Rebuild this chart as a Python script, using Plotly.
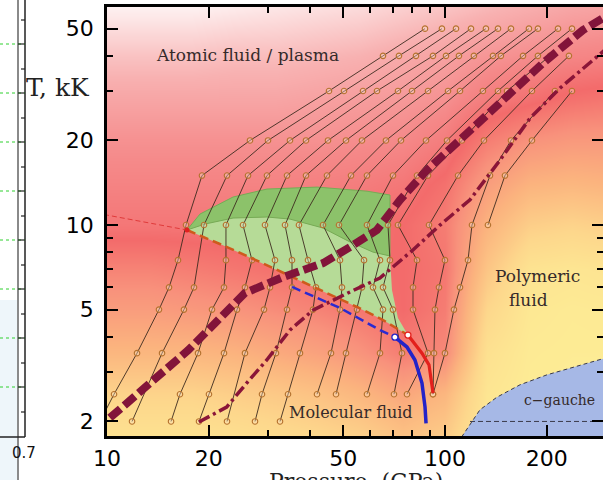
import numpy as np
import plotly.graph_objects as go

W, H = 603, 480
ML, MR, MT, MB = 107, 0, 7, 44
P_RANGE = [10.0, 293.5]
T_RANGE = [1.775, 59.7]

# ---------------- background shading (level) ----------------
bg_P = [10, 13.3, 17.8, 23.7, 31.6, 42.2, 56.2, 75, 100, 133, 178, 237, 316]
bg_T = [1.7, 2.5, 3.5, 5, 7, 10, 14, 20, 28, 40, 62]
bg_level = [
    [0.10, 0.10, 0.10, 0.12, 0.15, 0.18, 0.22, 0.30, 0.25, 0.05, 0.02, 0.02, 0.02],
    [0.22, 0.22, 0.22, 0.25, 0.28, 0.32, 0.38, 0.46, 0.38, 0.08, 0.03, 0.02, 0.02],
    [0.38, 0.38, 0.38, 0.40, 0.44, 0.48, 0.54, 0.62, 0.58, 0.12, 0.04, 0.03, 0.03],
    [0.50, 0.50, 0.52, 0.54, 0.57, 0.60, 0.64, 0.68, 0.62, 0.20, 0.06, 0.04, 0.05],
    [0.60, 0.60, 0.62, 0.64, 0.66, 0.67, 0.68, 0.68, 0.64, 0.30, 0.10, 0.08, 0.10],
    [0.72, 0.72, 0.72, 0.72, 0.71, 0.70, 0.69, 0.68, 0.62, 0.40, 0.25, 0.22, 0.25],
    [0.76, 0.76, 0.76, 0.76, 0.76, 0.75, 0.74, 0.72, 0.66, 0.50, 0.40, 0.38, 0.40],
    [0.80, 0.80, 0.80, 0.80, 0.80, 0.80, 0.79, 0.78, 0.74, 0.62, 0.55, 0.52, 0.52],
    [0.85, 0.85, 0.85, 0.85, 0.85, 0.84, 0.83, 0.82, 0.80, 0.74, 0.70, 0.66, 0.64],
    [0.91, 0.91, 0.91, 0.90, 0.90, 0.89, 0.88, 0.86, 0.84, 0.81, 0.79, 0.77, 0.76],
    [1.00, 1.00, 1.00, 0.99, 0.98, 0.97, 0.96, 0.94, 0.92, 0.90, 0.88, 0.86, 0.85],
]
bg_colors = [[0, '#fdef96'], [0.2, '#fdd78c'], [0.4, '#fbb37e'], [0.55, '#f8927c'],
             [0.68, '#f36b6b'], [0.78, '#f58989'], [0.88, '#f8b1b1'], [1, '#fef6f6']]

# ---------------- isochores (P in GPa, T in kK) ----------------
iso01_T = [2, 2.5, 3.5, 5, 6, 7.5, 10, 15, 20, 30, 40, 50]
iso01_P = [9.53, 10.49, 12.27, 14.25, 15.26, 16.22, 17.13, 19.1, 26.49, 45.38, 65.56, 87.28]
iso02_T = [2, 3.5, 5, 6, 10, 15, 20, 30, 40, 50]
iso02_P = [11.86, 14.55, 16.89, 18.09, 19.36, 22.65, 29.95, 50.26, 73.1, 97.97]
iso03_T = [2, 2.5, 3.5, 5, 6, 7.5, 10, 15, 20, 30, 40, 50]
iso03_P = [15.47, 16.44, 18.59, 20.45, 22.19, 22.49, 22.49, 26.14, 34.79, 57.21, 82.09, 107.8]
iso04_T = [2, 2.5, 3.5, 5, 6, 7.5, 10, 15, 20, 30, 40, 50]
iso04_P = [18.72, 20.03, 22.19, 24.25, 25.6, 26.85, 25.26, 29.74, 38.8, 62.93, 92.15, 119.4]
iso05_T = [2, 3.5, 5, 6, 7.5, 10, 15, 20, 30, 40, 50]
iso05_P = [22.65, 25.6, 29.14, 30.36, 31.41, 29.34, 34.09, 45.07, 72.6, 100.7, 132.2]
iso06_T = [2, 2.5, 3.5, 5, 6, 7.5, 10, 15, 20, 30, 40, 50]
iso06_P = [27.41, 28.75, 31.62, 34.09, 35.27, 35.27, 33.63, 38.8, 50.95, 79.88, 110.0, 143.5]
iso07_T = [2, 2.5, 3.5, 5, 6, 7.5, 10, 15, 20, 30, 40, 50]
iso07_P = [32.5, 34.32, 37.24, 40.69, 41.53, 39.33, 36.98, 44.76, 56.82, 89.09, 121.8, 156.8]
iso08_T = [2.5, 3.5, 5, 6, 7.5, 10, 15, 20, 30, 40, 50]
iso08_P = [41.82, 46.0, 48.91, 49.58, 48.91, 43.56, 52.72, 66.9, 102.1, 138.7, 177.2]
iso09_T = [2.5, 3.5, 5, 6, 7.5, 10, 15, 20, 30, 40, 50]
iso09_P = [47.6, 50.95, 54.91, 56.82, 57.61, 48.58, 58.78, 74.1, 110.8, 146.4, 188.4]
iso10_T = [2.5, 3.5, 5, 6, 7.5, 10, 15, 20, 30, 40, 50]
iso10_P = [58.78, 64.23, 65.56, 61.24, 64.23, 58.78, 70.17, 87.88, 129.5, 170.2, 216.0]
iso11_T = [2.5, 3.5, 5, 6, 7.5, 10, 15, 20, 30, 40, 50]
iso11_P = [70.65, 74.61, 70.17, 65.56, 68.75, 67.82, 82.65, 101.4, 143.5, 188.4, 237.6]
iso12_T = [2.5, 3.5, 5, 6, 7.5, 10, 15, 20, 30, 40]
iso12_P = [77.2, 89.09, 80.43, 80.43, 82.65, 72.6, 89.09, 112.3, 152.6, 204.5]
iso13_T = [2.5, 3.5, 5, 6, 7.5, 10, 15, 20, 30, 40]
iso13_P = [92.15, 92.8, 93.42, 96.0, 100.0, 89.7, 109.3, 130.4, 180.9, 232.7]
iso14_T = [2.5, 3.5, 5, 6, 7.5, 10, 15, 20, 30]
iso14_P = [92.15, 100.0, 106.3, 110.8, 117.0, 120.2, 135.9, 156.8, 211.5]
iso15_T = [10, 15, 20, 30]
iso15_P = [134.0, 150.5, 180.9, 237.6]

ISOCHORES = [(iso01_P, iso01_T), (iso02_P, iso02_T), (iso03_P, iso03_T), (iso04_P, iso04_T),
             (iso05_P, iso05_T), (iso06_P, iso06_T), (iso07_P, iso07_T), (iso08_P, iso08_T),
             (iso09_P, iso09_T), (iso10_P, iso10_T), (iso11_P, iso11_T), (iso12_P, iso12_T),
             (iso13_P, iso13_T), (iso14_P, iso14_T), (iso15_P, iso15_T)]

# ---------------- boundary curves ----------------
thick_P = [10.2, 17.4, 20.9, 25.6, 33.2, 43.6, 52.4, 62.9, 73.6, 88.5, 110.8, 155.7, 195, 256, 307.6]
thick_T = [2.06, 3.59, 4.48, 5.73, 6.53, 7.32, 8.35, 9.6, 12.27, 15.7, 20.1, 29.7, 37.7, 49.4, 56.4]

dd_P = [18.7, 22.6, 25.9, 29.7, 34.8, 40.7, 52.4, 64.2, 80.4, 96.7, 118.6, 145.4, 178.5, 218.9, 297.5]
dd_T = [1.99, 2.25, 2.74, 3.31, 4.23, 4.98, 5.78, 6.48, 8.15, 10.0, 12.3, 17.0, 24.0, 30.7, 42.0]

redthin_P = [9.8, 17.25]
redthin_T = [10.9, 9.6]

orange_P = [17.25, 22.65, 28.4, 34.8, 42.7, 54.9, 65.6, 77.7]
orange_T = [9.6, 8.35, 7.38, 6.59, 5.87, 5.11, 4.59, 4.06]

redsolid_P = [77.7, 85.5, 89.7, 92.2]
redsolid_T = [4.06, 3.5, 3.18, 2.52]

bluedash_P = [35.3, 48.9, 64.2, 71.1]
bluedash_T = [6.02, 5.07, 4.23, 3.99]
bluesolid_P = [71.1, 77.2, 81.5, 85.5, 87.3, 87.9]
bluesolid_T = [3.99, 3.68, 3.31, 2.74, 2.25, 1.97]

# green two-phase region
gdark_P = [17.25, 18.84, 23.6, 29.74, 41.82, 58.78, 68.75, 68.75, 61.24, 52.4, 43.56, 34.79, 29.74, 23.6, 19.5, 17.25]
gdark_T = [9.6, 10.94, 12.58, 13.43, 13.65, 13.2, 12.79, 7.76, 8.01, 8.7, 9.76, 10.5, 10.68, 10.59, 10.08, 9.6]
glight_P = [17.25, 19.5, 23.6, 29.74, 34.79, 43.56, 52.4, 61.24, 68.75, 69.7, 72.6, 77.7,
            65.6, 54.9, 42.7, 34.8, 28.4, 22.65, 17.25]
glight_T = [9.6, 10.08, 10.59, 10.68, 10.5, 9.76, 8.7, 8.01, 7.76, 5.87, 4.67, 4.06,
            4.59, 5.11, 5.87, 6.59, 7.38, 8.35, 9.6]

# c-gauche region
cg_P = [112.0, 126.9, 142.5, 166.7, 200.3, 239.2, 297.5]
cg_T = [1.76, 2.20, 2.44, 2.70, 2.93, 3.12, 3.36]
cgline_P = [118.6, 300.0]
cgline_T = [2.0, 2.0]

x_ticks = [10, 20, 50, 100, 200]
x_minor = [30, 40, 60, 70, 80, 90, 300]
y_ticks = [2, 5, 10, 20, 50]
y_minor = [3, 4, 6, 7, 8, 9, 30, 40]

lg = np.log10
fig = go.Figure()

fig.add_trace(go.Heatmap(x=lg(bg_P), y=lg(bg_T), z=bg_level, colorscale=bg_colors,
                         zmin=0, zmax=1, zsmooth='best', showscale=False, hoverinfo='skip',
                         xaxis='x', yaxis='y'))

def sc(x, y, **kw):
    fig.add_trace(go.Scatter(x=x, y=y, xaxis='x2', yaxis='y2', showlegend=False,
                             hoverinfo='skip', **kw))

# c-gauche
sc(cg_P + [cg_P[-1], cg_P[0]], cg_T + [1.6, 1.6], mode='lines', fill='toself',
   fillcolor='#a6b8e6', line=dict(width=0))
sc(cg_P, cg_T, mode='lines', line=dict(color='#3a3a4a', width=1, dash='4px,3px'))
sc(cgline_P, cgline_T, mode='lines', line=dict(color='#3a3a4a', width=1, dash='5px,3px'))

# green region
sc(glight_P, glight_T, mode='lines', fill='toself', fillcolor='#b6db97', line=dict(width=0))
sc(gdark_P, gdark_T, mode='lines', fill='toself', fillcolor='#8cc26a',
   line=dict(color='#74ad55', width=1))

# isochores
for P, T in ISOCHORES:
    sc(P, T, mode='lines+markers', line=dict(color='#3d2b1f', width=0.9),
       marker=dict(symbol='circle', size=5.5, color='rgba(255,235,210,0.35)',
                   line=dict(color='#b5722e', width=1.1)))

# boundary lines
sc(redthin_P, redthin_T, mode='lines', line=dict(color='#e03a3a', width=1, dash='5px,3px'))
sc(orange_P, orange_T, mode='lines', line=dict(color='#cf5a1c', width=2.5, dash='9px,5px'))
sc(redsolid_P, redsolid_T, mode='lines', line=dict(color='#e3201c', width=3.2))
sc(bluedash_P, bluedash_T, mode='lines', line=dict(color='#2a2ad0', width=2.5, dash='9px,5px'))
sc(bluesolid_P, bluesolid_T, mode='lines', line=dict(color='#2323c8', width=3.5))
sc(dd_P, dd_T, mode='lines', line=dict(color='#8a1538', width=3.5, dash='12px,4px,3px,4px'))
sc(thick_P, thick_T, mode='lines', line=dict(color='#82143a', width=8, dash='14px,5px'))
sc([redsolid_P[0], bluesolid_P[0]], [redsolid_T[0], bluesolid_T[0]], mode='markers',
   marker=dict(size=6, color='white', line=dict(color=['#e3201c', '#2323c8'], width=1.3)))
sc([orange_P[0]], [orange_T[0]], mode='markers', marker=dict(size=5, color='#e02020'))

# invisible trace for right-hand tick axis
fig.add_trace(go.Scatter(x=[20], y=[5], xaxis='x2', yaxis='y3', mode='markers',
                         marker=dict(opacity=0), showlegend=False, hoverinfo='skip'))

tickfont = dict(family='DejaVu Sans', size=22, color='black')
common_log = dict(type='log', showgrid=False, zeroline=False, ticks='inside', ticklen=11,
                  tickwidth=2, tickcolor='black', tickfont=tickfont)
xr = [float(lg(P_RANGE[0])), float(lg(P_RANGE[1]))]
yr = [float(lg(T_RANGE[0])), float(lg(T_RANGE[1]))]

fig.update_layout(
    width=W, height=H, margin=dict(l=ML, r=MR, t=MT, b=MB, autoexpand=False),
    paper_bgcolor='white', plot_bgcolor='white', hovermode=False, showlegend=False,
    xaxis=dict(range=xr, visible=False, fixedrange=True),
    yaxis=dict(range=yr, visible=False, fixedrange=True),
    xaxis2=dict(overlaying='x', anchor='y2', side='bottom', range=xr,
                tickmode='array', tickvals=x_ticks, ticktext=[str(v) for v in x_ticks],
                showline=True, linewidth=2.5, linecolor='black', mirror='ticks',
                minor=dict(tickmode='array', tickvals=x_minor, ticks='inside', ticklen=6,
                           tickwidth=2, tickcolor='black'),
                ticklabelstandoff=1, **common_log),
    yaxis2=dict(overlaying='y', anchor='x2', side='left', range=yr,
                tickmode='array', tickvals=y_ticks, ticktext=[str(v) for v in y_ticks],
                showline=True, linewidth=2.5, linecolor='black', mirror=False,
                minor=dict(tickmode='array', tickvals=y_minor, ticks='inside', ticklen=6,
                           tickwidth=2, tickcolor='black'),
                ticklabelstandoff=6, **common_log),
    yaxis3=dict(overlaying='y', anchor='x2', side='right', range=yr,
                tickmode='array', tickvals=y_ticks, showticklabels=False, showline=False,
                minor=dict(tickmode='array', tickvals=y_minor, ticks='inside', ticklen=6,
                           tickwidth=2, tickcolor='black'),
                **common_log),
)

serif = 'DejaVu Serif'
txtc = '#352a2a'
def lab(text, P, T, size):
    fig.add_annotation(text=text, x=float(lg(P)), y=float(lg(T)), xref='x', yref='y',
                       xanchor='center', yanchor='middle',
                       showarrow=False, font=dict(family=serif, size=size, color=txtc))

lab('Atomic fluid / plasma', 26.1, 40.3, 17)
lab('Polymeric', 188.4, 6.59, 17)
lab('fluid', 177.0, 5.41, 17)
lab('Molecular fluid', 52.7, 2.16, 16)
lab('c\u2212gauche', 217.5, 2.38, 14)

# pixel -> paper helpers for page furniture outside the plot
def px(xp):
    return (xp - ML) / (W - ML - MR)
def py(yp):
    return (H - MB - yp) / (H - MT - MB)

fig.add_annotation(text='T, kK', x=px(58), y=py(87), xref='paper', yref='paper',
                   xanchor='center', yanchor='middle',
                   showarrow=False, font=dict(family=serif, size=25, color='#222'))
fig.add_annotation(text='Pressure, (GPa)', x=px(356), y=py(467), xref='paper', yref='paper',
                   xanchor='center', yanchor='top', showarrow=False,
                   font=dict(family=serif, size=22, color='#222'))
fig.add_annotation(text='0.7', x=px(24), y=py(453), xref='paper', yref='paper',
                   xanchor='center', yanchor='middle',
                   showarrow=False, font=dict(family='DejaVu Sans', size=15, color='#111'))

# remnant of neighbouring panel on the far left
shapes = []
shapes.append(dict(type='rect', xref='paper', yref='paper', x0=px(0), x1=px(17), y0=py(480), y1=py(300),
                   fillcolor='#eef6fa', line=dict(width=0), layer='below'))
shapes.append(dict(type='line', xref='paper', yref='paper', x0=px(18), x1=px(18), y0=py(0), y1=py(480),
                   line=dict(color='#8a8a8a', width=2)))
shapes.append(dict(type='line', xref='paper', yref='paper', x0=px(25), x1=px(25), y0=py(0), y1=py(437),
                   line=dict(color='#222', width=1.5)))
shapes.append(dict(type='line', xref='paper', yref='paper', x0=px(0), x1=px(25), y0=py(437), y1=py(437),
                   line=dict(color='#222', width=1.5)))
for k in range(8):
    yy = 44 + 49 * k
    shapes.append(dict(type='line', xref='paper', yref='paper', x0=px(0), x1=px(25), y0=py(yy), y1=py(yy),
                       line=dict(color='#2fd02f', width=1, dash='dot')))
    shapes.append(dict(type='line', xref='paper', yref='paper', x0=px(18), x1=px(25), y0=py(yy), y1=py(yy),
                       line=dict(color='#222', width=1.2)))
for k in range(9):
    yy = 20 + 49 * k
    shapes.append(dict(type='line', xref='paper', yref='paper', x0=px(21), x1=px(25), y0=py(yy), y1=py(yy),
                       line=dict(color='#222', width=1.2)))
fig.update_layout(shapes=shapes)

fig.write_html('out.html')
